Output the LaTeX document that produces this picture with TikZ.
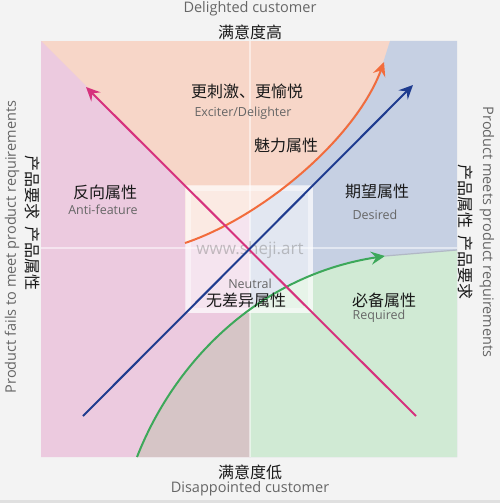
\documentclass[tikz,border=0pt]{standalone}
\usepackage{fontspec}
\setmainfont{Open Sans}
\newfontfamily\cjk{Noto Sans CJK SC}
\usetikzlibrary{arrows.meta}
\definecolor{bgc}{HTML}{F3F3F3}
\definecolor{peach}{HTML}{F7D6C8}
\definecolor{pinkr}{HTML}{ECCADF}
\definecolor{bluer}{HTML}{C6D0E3}
\definecolor{greenr}{HTML}{D0EAD4}
\definecolor{brownr}{HTML}{D6C5C6}
\definecolor{pinkl}{HTML}{D6327D}
\definecolor{bluel}{HTML}{1F3C8F}
\definecolor{orangel}{HTML}{F26C3C}
\definecolor{greenl}{HTML}{3DA85A}
\definecolor{txtgray}{HTML}{666666}
\tikzset{
  cn/.style={font=\cjk\fontsize{16}{18}\selectfont, text=black!90, inner sep=0pt},
  en/.style={font=\fontsize{12.5}{14}\selectfont, text=txtgray, inner sep=0pt},
  side/.style={font=\fontsize{14.5}{16}\selectfont, text=txtgray, inner sep=0pt},
  curve/.style={line width=2pt, -{Stealth[length=14pt,width=13pt,inset=5pt]}}
}
\begin{document}
\begin{tikzpicture}[x=1pt,y=-1pt]
\useasboundingbox (0,0) rectangle (500,503);
\fill[bgc] (0,0) rectangle (500,503);
\fill[black!12] (0,500) rectangle (500,503);
% regions
\fill[peach] (41,41) rectangle (457,457);
\begin{scope}
  \clip (0,0) rectangle (250,503);
  \fill[pinkr] (41,41) -- (185,185) -- (185,243) .. controls (260,218) and (355,140) .. (383,63) -- (383,457) -- (41,457) -- cycle;
  \fill[brownr] (137,457) .. controls (175,360) and (260,275) .. (383,256) -- (457,250) -- (457,457) -- cycle;
\end{scope}
\begin{scope}
  \clip (250,0) rectangle (500,503);
  \fill[bluer] (185,243) .. controls (260,218) and (355,140) .. (383,63) -- (390,41) -- (457,41) -- (457,457) -- (185,457) -- cycle;
  \fill[greenr] (137,457) .. controls (175,360) and (260,275) .. (383,256) -- (457,250) -- (457,457) -- cycle;
\end{scope}
% faint axes
\draw[white, opacity=0.5, line width=1.5pt] (250,41) -- (250,457);
\draw[white, opacity=0.5, line width=1.5pt] (41,248) -- (457,248);
% neutral square
\fill[white, opacity=0.5] (185,185) rectangle (313,313);
\draw[white, opacity=0.45, line width=5pt] (188,188) rectangle (310,310);
% watermark
\node[font=\fontsize{17}{20}\selectfont, text=gray, opacity=0.45, inner sep=0pt] (wm) at (250,250) {www.sheji.art};
% coordinates
\coordinate (pS) at (416,416);
\coordinate (pE) at (86,87);
\coordinate (bS) at (83,416);
\coordinate (bE) at (413,85);
\coordinate (oS) at (185,243);
\coordinate (oE) at (384,62);
\coordinate (gS) at (137,457);
\coordinate (gE) at (385,256);
\coordinate (gR) at (457,250);
% curves
\draw[color=bluer!70!gray, line width=1.2pt] (gE) -- (gR);
\draw[curve, color=greenl] (gS) .. controls (175,360) and (260,275) .. (gE);
\draw[curve, color=orangel] (oS) .. controls (260,218) and (355,140) .. (oE);
\draw[curve, color=pinkl] (pS) -- (pE);
\draw[curve, color=bluel] (bS) -- (bE);
% labels
\node[side] (top) at (250,9) {Delighted customer};
\node[cn] (topc) at (250,32) {满意度高};
\node[cn] (botc) at (250,472) {满意度低};
\node[side] (bot) at (250,489) {Disappointed customer};
\node[side, rotate=90] (left) at (12,247) {Product fails to meet product requirements};
\node[cn, rotate=-90] (leftc) at (33,223) {产品要求\ \ 产品属性};
\node[side, rotate=-90] (right) at (487,232) {Product meets product requirements};
\node[cn, rotate=-90] (rightc) at (466,232) {产品属性\ \ 产品要求};
\node[cn] (exc) at (247,91) {更刺激、更愉悦};
\node[en] (exce) at (243,113) {Exciter/Delighter};
\node[cn] (attr) at (286,145) {魅力属性};
\node[cn] (anti) at (105,192) {反向属性};
\node[en] (antie) at (103,210) {Anti-feature};
\node[cn] (des) at (377,191) {期望属性};
\node[en] (dese) at (375,215) {Desired};
\node[en] (neu) at (250,284) {Neutral};
\node[cn] (neuc) at (246,300) {无差异属性};
\node[cn] (req) at (384,300) {必备属性};
\node[en] (reqe) at (379,316) {Required};
\end{tikzpicture}
\end{document}
